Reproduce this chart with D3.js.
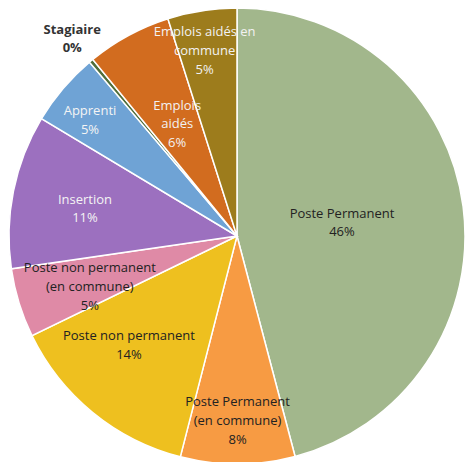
<!DOCTYPE html>
<html><head><meta charset="utf-8">
<script src="https://cdn.jsdelivr.net/npm/d3@7"></script>
<style>html,body{margin:0;padding:0;background:#fff;}svg{display:block;}</style>
</head><body>
<svg id="chart" width="466" height="462"></svg>
<script>
const categories = ["Poste Permanent","Poste Permanent (en commune)","Poste non permanent","Poste non permanent (en commune)","Insertion","Apprenti","Stagiaire","Emplois aidés","Emplois aidés en commune"];
const labelLines = [["Poste Permanent"],["Poste Permanent","(en commune)"],["Poste non permanent"],["Poste non permanent","(en commune)"],["Insertion"],["Apprenti"],["Stagiaire"],["Emplois","aidés"],["Emplois aidés en","commune"]];
const values = [45.9, 8.1, 13.8, 4.9, 10.9, 5.2, 0.3, 6.0, 4.9];
const colors = ["#a2b78c","#f79b43","#eec01f","#df8aa6","#9c70bf","#6fa3d5","#4f6e3a","#d26c1f","#9d7c1c"];
const textColors = ["#222","#222","#222","#222","#f4f4f4","#f4f4f4","#333","#f2f2f2","#f2f2f2"];
const labelRadius = [0.46, 0.80, 0.68, 0.68, 0.68, 0.84, 1.15, 0.56, 0.81];
const labelShift = [[1,0],[0,2],[-10,-11],[1,5],[0,3],[-1,8],[3,4],[1,0],[-4,-3]];

const svg = d3.select("#chart");
const cx = 237, cy = 236, R = 228;
const g = svg.append("g").attr("transform", `translate(${cx},${cy})`);
const data = categories.map((c,i)=>({name:c, value:values[i], i}));
const pie = d3.pie().sort(null).value(d=>d.value).startAngle(0).endAngle(2*Math.PI);
const arcs = pie(data);
const arc = d3.arc().innerRadius(0).outerRadius(R);
g.selectAll("path").data(arcs).enter().append("path")
  .attr("d", arc).attr("fill", d=>colors[d.data.i])
  .attr("stroke", "#fff").attr("stroke-width", 1.5);
const total = d3.sum(values);
const lh = 18.7;
arcs.forEach(a=>{
  const i = a.data.i;
  const mid = (a.startAngle + a.endAngle)/2;
  const r = R*labelRadius[i];
  const x = Math.sin(mid)*r + labelShift[i][0], y = -Math.cos(mid)*r + labelShift[i][1];
  const lines = labelLines[i].concat([Math.round(values[i]/total*100)+"%"]);
  const t = g.append("text").attr("text-anchor","middle")
    .attr("font-family","'Open Sans', sans-serif").attr("font-size", 13)
    .attr("font-weight", i===6 ? "bold" : "normal")
    .attr("fill", textColors[i]);
  lines.forEach((l,k)=>{
    t.append("tspan").attr("x", x).attr("y", y + (k - (lines.length-1)/2)*lh + 4.5).text(l);
  });
});
</script>
</body></html>
